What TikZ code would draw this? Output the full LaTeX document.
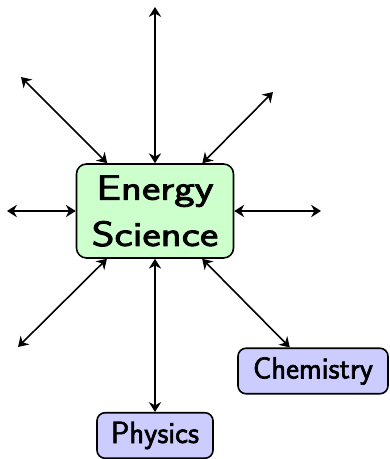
\documentclass[tikz,border=0pt]{standalone}
\usepackage{fontspec}
\usetikzlibrary{arrows.meta}
\newfontfamily\subjfont{Latin Modern Sans}[FakeBold=2]
\newfontfamily\rootfont{Latin Modern Sans}[FakeBold=2.5, FakeStretch=1.24]

\begin{document}
\begin{tikzpicture}[
  >={Stealth[length=5.6pt, width=7pt]},
  rootbox/.style={rectangle, rounded corners=0.2cm, draw=black, line width=0.9pt, fill=green!20,
    minimum width=3.14cm, minimum height=1.88cm, inner sep=0pt, align=center,
    font=\rootfont\fontsize{20}{26.3}\selectfont},
  subjbox/.style={rectangle, rounded corners=0.16cm, draw=black, line width=0.9pt, fill=blue!20,
    minimum height=0.91cm, inner sep=0pt, font=\subjfont\fontsize{17.4}{20}\selectfont},
  link/.style={<->, line width=0.9pt},
]
\useasboundingbox (0,0) rectangle (7.8,9.18);

% ---- central topic ----
\node[rootbox] (energy) at (3.10, 4.96) {Energy\\Science};
% ---- named subjects ----
\node[subjbox, minimum width=2.32cm] (physics) at (3.10, 0.47) {Physics};
\node[subjbox, minimum width=3.0cm] (chemistry) at (6.26, 1.76) {Chemistry};
% ---- open ends (no label) ----
\coordinate (top) at (3.10, 9.04);
\coordinate (topleft) at (0.42, 7.64);
\coordinate (topright) at (5.46, 7.34);
\coordinate (left) at (0.14, 4.96);
\coordinate (right) at (6.42, 4.96);
\coordinate (botleft) at (0.36, 2.24);

% ---- spokes ----
\draw[link] (energy) -- (top);
\draw[link] (energy) -- (topleft);
\draw[link] (energy) -- (topright);
\draw[link] (energy) -- (left);
\draw[link] (energy) -- (right);
\draw[link] (energy) -- (botleft);
\draw[link] (energy) -- (physics);
\draw[link] (energy) -- (chemistry);

\end{tikzpicture}
\end{document}
